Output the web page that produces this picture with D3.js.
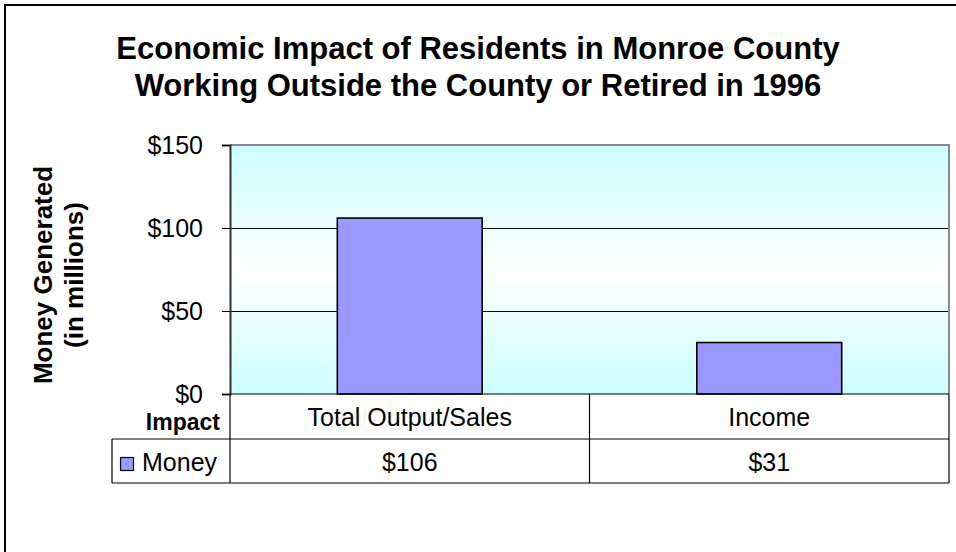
<!DOCTYPE html>
<html>
<head>
<meta charset="utf-8">
<script src="https://cdn.jsdelivr.net/npm/d3@7"></script>
<style>
  html, body { margin: 0; padding: 0; background: #fff; }
  svg { display: block; }
  text { font-family: "Liberation Sans", Arial, sans-serif; fill: #000; }
</style>
</head>
<body>
<svg id="chart" width="956" height="552"></svg>
<script>
// Chart data
const titleLines = ["Economic Impact of Residents in Monroe County",
                    "Working Outside the County or Retired in 1996"];
const categories = ["Total Output/Sales", "Income"];
const money = [106, 31];
const seriesName = "Money";
const yTicks = [0, 50, 100, 150];
const yTitleLines = ["Money Generated", "(in millions)"];
const tableHeader = "Impact";

const svg = d3.select("#chart");
const W = 956, H = 552;
const FONT = "'Liberation Sans', Arial, sans-serif";

// Plot frame
const plot = { left: 230, right: 949, top: 145, bottom: 394 };
const table = { left: 112, row1Bottom: 439, bottom: 483 };

const y = d3.scaleLinear().domain([0, 150]).range([plot.bottom, plot.top]);
const x = d3.scaleBand().domain(categories).range([plot.left, plot.right]).padding(0);
const barW = x.bandwidth() * 0.403;

// Outer chart border
svg.append("rect")
  .attr("x", 5).attr("y", 5)
  .attr("width", W + 20).attr("height", H + 20)
  .attr("fill", "#fff").attr("stroke", "#000").attr("stroke-width", 2);

// Title
const title = svg.append("text")
  .attr("text-anchor", "middle")
  .attr("font-size", 31).attr("font-weight", "bold");
titleLines.forEach((t, i) => {
  title.append("tspan").attr("x", 478).attr("y", 59 + i * 37).text(t);
});

// Plot background: cyan fading to white in the middle and back
const defs = svg.append("defs");
const grad = defs.append("linearGradient")
  .attr("id", "plotBg").attr("x1", 0).attr("y1", 0).attr("x2", 0).attr("y2", 1);
grad.append("stop").attr("offset", "0%").attr("stop-color", "#ccffff");
grad.append("stop").attr("offset", "50%").attr("stop-color", "#ffffff");
grad.append("stop").attr("offset", "100%").attr("stop-color", "#ccffff");

svg.append("rect")
  .attr("x", plot.left).attr("y", plot.top)
  .attr("width", plot.right - plot.left).attr("height", plot.bottom - plot.top)
  .attr("fill", "url(#plotBg)");

// Gridlines
svg.append("g")
  .selectAll("line")
  .data(yTicks.filter(d => d > 0 && d < 150))
  .join("line")
  .attr("x1", plot.left).attr("x2", plot.right)
  .attr("y1", d => Math.round(y(d)) + 0.5).attr("y2", d => Math.round(y(d)) + 0.5)
  .attr("stroke", "#000").attr("stroke-width", 1);

// Top and right plot border (grey)
svg.append("path")
  .attr("d", `M${plot.left},${plot.top} H${plot.right} V${plot.bottom}`)
  .attr("fill", "none").attr("stroke", "#8c8c8c").attr("stroke-width", 2);

// Bars
svg.append("g")
  .selectAll("rect")
  .data(categories.map((c, i) => ({ c, v: money[i] })))
  .join("rect")
  .attr("x", d => x(d.c) + (x.bandwidth() - barW) / 2)
  .attr("y", d => y(d.v))
  .attr("width", barW)
  .attr("height", d => y(0) - y(d.v))
  .attr("fill", "#9999ff")
  .attr("stroke", "#000").attr("stroke-width", 1.6);

// Y axis
const yAxis = d3.axisLeft(y)
  .tickValues(yTicks)
  .tickSize(8)
  .tickPadding(19)
  .tickFormat(d => "$" + d);
const gy = svg.append("g")
  .attr("transform", `translate(${plot.left},0)`)
  .call(yAxis);
gy.select(".domain").attr("stroke", "#333").attr("stroke-width", 2);
gy.selectAll(".tick line").attr("stroke", "#000");
gy.selectAll(".tick text")
  .attr("font-size", 25)
  .attr("font-family", FONT)
  .attr("fill", "#000");

// Y axis title
const yt = svg.append("text")
  .attr("transform", `translate(0,275) rotate(-90)`)
  .attr("text-anchor", "middle")
  .attr("font-size", 26).attr("font-weight", "bold");
yTitleLines.forEach((t, i) => {
  yt.append("tspan").attr("x", 0).attr("y", 52 + i * 31).text(t);
});

// Data table
const tg = svg.append("g").attr("stroke", "#000").attr("stroke-width", 1.2);
tg.append("line").attr("x1", plot.left).attr("x2", plot.right)
  .attr("y1", plot.bottom).attr("y2", plot.bottom);
tg.append("line").attr("x1", table.left).attr("x2", plot.right)
  .attr("y1", table.row1Bottom).attr("y2", table.row1Bottom);
tg.append("line").attr("x1", table.left).attr("x2", plot.right)
  .attr("y1", table.bottom).attr("y2", table.bottom);
tg.append("line").attr("x1", table.left).attr("x2", table.left)
  .attr("y1", table.row1Bottom).attr("y2", table.bottom);
// column dividers at band edges
const edges = categories.map(c => x(c)).concat([plot.right]);
tg.selectAll("line.col")
  .data(edges)
  .join("line").attr("class", "col")
  .attr("x1", d => d).attr("x2", d => d)
  .attr("y1", plot.bottom).attr("y2", table.bottom);

// Header row
svg.append("text")
  .attr("x", 220).attr("y", 430)
  .attr("text-anchor", "end")
  .attr("font-size", 23).attr("font-weight", "bold")
  .text(tableHeader);

svg.append("g")
  .selectAll("text")
  .data(categories)
  .join("text")
  .attr("x", d => x(d) + x.bandwidth() / 2)
  .attr("y", 426)
  .attr("text-anchor", "middle")
  .attr("font-size", 25)
  .text(d => d);

// Series row: legend key + values
svg.append("rect")
  .attr("x", 120.5).attr("y", 457.5).attr("width", 13).attr("height", 13)
  .attr("fill", "#9999ff").attr("stroke", "#000").attr("stroke-width", 1.2);
svg.append("text")
  .attr("x", 142).attr("y", 471)
  .attr("font-size", 25)
  .text(seriesName);

svg.append("g")
  .selectAll("text")
  .data(categories.map((c, i) => ({ c, v: money[i] })))
  .join("text")
  .attr("x", d => x(d.c) + x.bandwidth() / 2)
  .attr("y", 471)
  .attr("text-anchor", "middle")
  .attr("font-size", 25)
  .text(d => "$" + d.v);
</script>
</body>
</html>
